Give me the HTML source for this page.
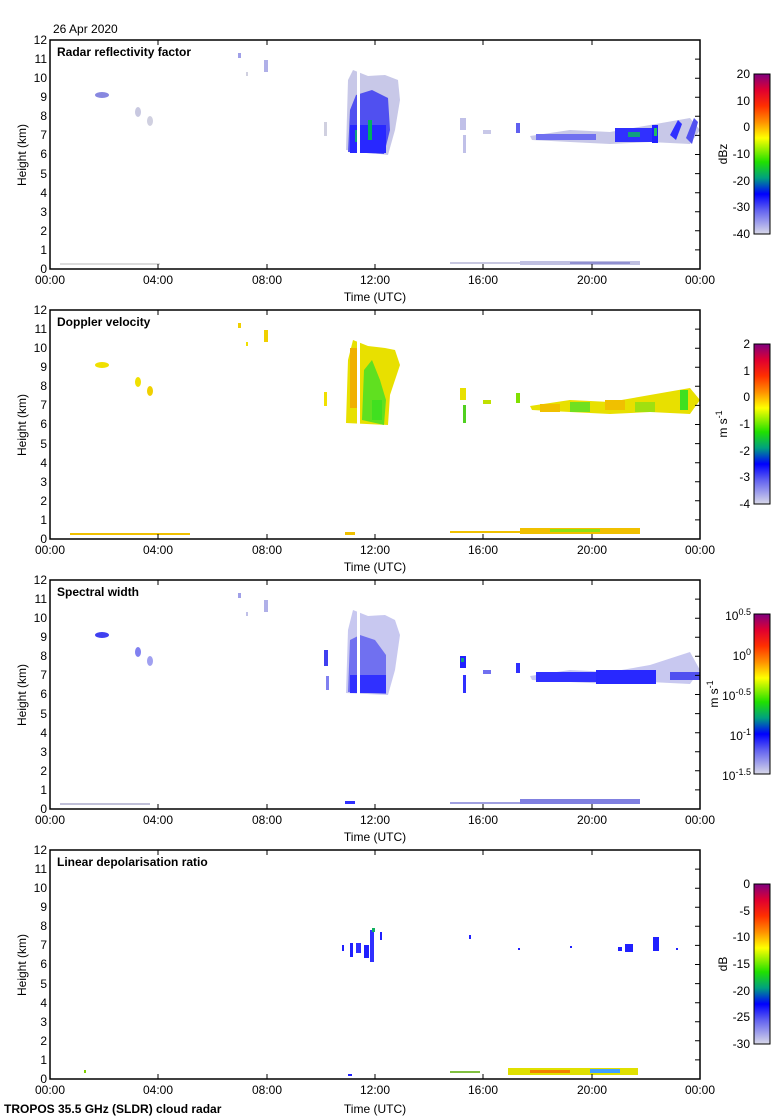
<!DOCTYPE html>
<html><head><meta charset="utf-8"><style>
html,body{margin:0;padding:0;background:#fff}
svg{display:block;font-family:"Liberation Sans",sans-serif}
</style></head><body>
<svg width="780" height="1120" viewBox="0 0 780 1120" xmlns="http://www.w3.org/2000/svg">
<defs>
<linearGradient id="rb" x1="0" y1="0" x2="0" y2="1">
<stop offset="0" stop-color="#800080"/>
<stop offset="0.1" stop-color="#e00030"/>
<stop offset="0.2" stop-color="#ff3000"/>
<stop offset="0.3" stop-color="#ff9000"/>
<stop offset="0.4" stop-color="#ffff00"/>
<stop offset="0.55" stop-color="#20e000"/>
<stop offset="0.65" stop-color="#00a080"/>
<stop offset="0.75" stop-color="#0000ff"/>
<stop offset="0.85" stop-color="#6060f0"/>
<stop offset="1" stop-color="#d8d8e8"/>
</linearGradient>
</defs>
<text x="53" y="33" font-size="12">26 Apr 2020</text>
<text x="4" y="1113" font-size="12" font-weight="bold">TROPOS 35.5 GHz (SLDR) cloud radar</text>

<!-- Panel 1 -->
<g transform="translate(50,40)">
<g>
<ellipse cx="52" cy="55" rx="7" ry="3" fill="#8888e0"/>
<ellipse cx="88" cy="72" rx="3" ry="5" fill="#c8c8e0"/>
<ellipse cx="100" cy="81" rx="3" ry="5" fill="#d0d0e0"/>
<rect x="188" y="13" width="3" height="5" fill="#a0a0e8"/>
<rect x="196" y="32" width="2" height="4" fill="#d0d0e0"/>
<rect x="214" y="20" width="4" height="12" fill="#b0b0e8"/>
<rect x="274" y="82" width="3" height="14" fill="#d0d0e0"/>
<path d="M296,110 L298,40 L303,30 L318,36 L335,35 L348,40 L350,60 L345,90 L338,115 Z" fill="#c8c8e8"/>
<path d="M298,112 L300,70 L306,55 L322,50 L338,58 L340,90 L334,114 Z" fill="#5050f0"/>
<rect x="300" y="85" width="36" height="28" fill="#2828ff"/>
<rect x="318" y="80" width="4" height="20" fill="#00b060"/>
<rect x="305" y="90" width="3" height="12" fill="#10a080"/>
<rect x="307" y="30" width="3" height="90" fill="#fff"/>
<rect x="410" y="78" width="6" height="12" fill="#c0c0e8"/>
<rect x="413" y="95" width="3" height="18" fill="#c0c0e8"/>
<rect x="433" y="90" width="8" height="4" fill="#c8c8e8"/>
<rect x="466" y="83" width="4" height="10" fill="#6060f0"/>
<path d="M480,96 L520,90 L560,92 L600,85 L640,78 L650,90 L640,104 L600,102 L560,104 L520,102 L482,100 Z" fill="#c8c8e8"/>
<rect x="486" y="94" width="60" height="6" fill="#7070f0"/>
<rect x="565" y="88" width="40" height="14" fill="#3030ff"/>
<rect x="578" y="92" width="12" height="5" fill="#10a080"/>
<rect x="602" y="85" width="6" height="18" fill="#2020ff"/>
<rect x="604" y="88" width="3" height="8" fill="#20c060"/>
<path d="M620,95 L628,80 L632,84 L626,100 Z" fill="#3030ff"/>
<path d="M636,98 L644,78 L648,82 L642,104 Z" fill="#5050f0"/>
<rect x="10" y="223" width="100" height="2" fill="#dcdcdc"/>
<rect x="400" y="222" width="70" height="2" fill="#c8c8e0"/>
<rect x="470" y="221" width="120" height="4" fill="#c0c0e0"/>
<rect x="520" y="222" width="60" height="2" fill="#9090d0"/>
</g>
<rect x="0" y="0" width="650" height="229" fill="none" stroke="#000" stroke-width="1.5"/>
<path d="M108,0v5M217,0v5M325,0v5M433,0v5M542,0v5M108,229v-5M217,229v-5M325,229v-5M433,229v-5M542,229v-5M650,19.1h-5M650,38.2h-5M650,57.3h-5M650,76.3h-5M650,95.4h-5M650,114.5h-5M650,133.6h-5M650,152.7h-5M650,171.8h-5M650,190.8h-5M650,209.9h-5" stroke="#000" fill="none"/>
<g font-size="12" text-anchor="end"><text x="-3" y="233">0</text><text x="-3" y="214">1</text><text x="-3" y="195">2</text><text x="-3" y="176">3</text><text x="-3" y="157">4</text><text x="-3" y="138">5</text><text x="-3" y="118">6</text><text x="-3" y="99">7</text><text x="-3" y="80">8</text><text x="-3" y="61">9</text><text x="-3" y="42">10</text><text x="-3" y="23">11</text><text x="-3" y="4">12</text></g>
<g font-size="12" text-anchor="middle"><text x="0" y="244">00:00</text><text x="108" y="244">04:00</text><text x="217" y="244">08:00</text><text x="325" y="244">12:00</text><text x="433" y="244">16:00</text><text x="542" y="244">20:00</text><text x="650" y="244">00:00</text><text x="325" y="261">Time (UTC)</text></g>
<text transform="translate(-24,115) rotate(-90)" font-size="12" text-anchor="middle">Height (km)</text>
<text x="7" y="16" font-size="12" font-weight="bold">Radar reflectivity factor</text>
<rect x="704" y="34" width="16" height="160" fill="url(#rb)" stroke="#000"/>
<g font-size="12" text-anchor="end"><text x="700" y="38">20</text><text x="700" y="65">10</text><text x="700" y="91">0</text><text x="700" y="118">-10</text><text x="700" y="145">-20</text><text x="700" y="171">-30</text><text x="700" y="198">-40</text></g>
<text transform="translate(677,114) rotate(-90)" font-size="12" text-anchor="middle">dBz</text>
</g>

<!-- Panel 2 -->
<g transform="translate(50,310)">
<g>
<ellipse cx="52" cy="55" rx="7" ry="3" fill="#f0e000"/>
<ellipse cx="88" cy="72" rx="3" ry="5" fill="#f0e000"/>
<ellipse cx="100" cy="81" rx="3" ry="5" fill="#f0d000"/>
<rect x="188" y="13" width="3" height="5" fill="#f0d000"/>
<rect x="196" y="32" width="2" height="4" fill="#f0e000"/>
<rect x="214" y="20" width="4" height="12" fill="#f0d000"/>
<rect x="274" y="82" width="3" height="14" fill="#f0e000"/>
<path d="M296,113 L298,50 L303,30 L318,36 L335,38 L345,40 L350,55 L345,70 L340,85 L338,115 Z" fill="#e8e000"/>
<rect x="300" y="38" width="8" height="60" fill="#f0b000"/>
<path d="M312,110 L314,60 L322,50 L330,70 L336,90 L334,115 Z" fill="#60e020"/>
<rect x="322" y="90" width="10" height="20" fill="#40e020"/>
<rect x="307" y="30" width="3" height="90" fill="#fff"/>
<rect x="410" y="78" width="6" height="12" fill="#e8e000"/>
<rect x="413" y="95" width="3" height="18" fill="#50d020"/>
<rect x="433" y="90" width="8" height="4" fill="#c0e000"/>
<rect x="466" y="83" width="4" height="10" fill="#80e000"/>
<path d="M480,96 L520,90 L560,92 L600,85 L640,78 L650,90 L640,104 L600,102 L560,104 L520,102 L482,100 Z" fill="#e8e000"/>
<rect x="490" y="94" width="20" height="8" fill="#f0c000"/>
<rect x="520" y="92" width="20" height="10" fill="#70e020"/>
<rect x="555" y="90" width="20" height="10" fill="#f0c000"/>
<rect x="585" y="92" width="20" height="10" fill="#a0e010"/>
<rect x="630" y="80" width="8" height="20" fill="#40e020"/>
<rect x="20" y="223" width="120" height="2" fill="#f0c000"/>
<rect x="295" y="222" width="10" height="3" fill="#f0c000"/>
<rect x="400" y="221" width="70" height="2" fill="#f0c000"/>
<rect x="470" y="218" width="120" height="6" fill="#f0c000"/>
<rect x="500" y="219" width="50" height="3" fill="#90e010"/>
</g>
<rect x="0" y="0" width="650" height="229" fill="none" stroke="#000" stroke-width="1.5"/>
<path d="M108,0v5M217,0v5M325,0v5M433,0v5M542,0v5M108,229v-5M217,229v-5M325,229v-5M433,229v-5M542,229v-5M650,19.1h-5M650,38.2h-5M650,57.3h-5M650,76.3h-5M650,95.4h-5M650,114.5h-5M650,133.6h-5M650,152.7h-5M650,171.8h-5M650,190.8h-5M650,209.9h-5" stroke="#000" fill="none"/>
<g font-size="12" text-anchor="end"><text x="-3" y="233">0</text><text x="-3" y="214">1</text><text x="-3" y="195">2</text><text x="-3" y="176">3</text><text x="-3" y="157">4</text><text x="-3" y="138">5</text><text x="-3" y="118">6</text><text x="-3" y="99">7</text><text x="-3" y="80">8</text><text x="-3" y="61">9</text><text x="-3" y="42">10</text><text x="-3" y="23">11</text><text x="-3" y="4">12</text></g>
<g font-size="12" text-anchor="middle"><text x="0" y="244">00:00</text><text x="108" y="244">04:00</text><text x="217" y="244">08:00</text><text x="325" y="244">12:00</text><text x="433" y="244">16:00</text><text x="542" y="244">20:00</text><text x="650" y="244">00:00</text><text x="325" y="261">Time (UTC)</text></g>
<text transform="translate(-24,115) rotate(-90)" font-size="12" text-anchor="middle">Height (km)</text>
<text x="7" y="16" font-size="12" font-weight="bold">Doppler velocity</text>
<rect x="704" y="34" width="16" height="160" fill="url(#rb)" stroke="#000"/>
<g font-size="12" text-anchor="end"><text x="700" y="38">2</text><text x="700" y="65">1</text><text x="700" y="91">0</text><text x="700" y="118">-1</text><text x="700" y="145">-2</text><text x="700" y="171">-3</text><text x="700" y="198">-4</text></g>
<text transform="translate(677,114) rotate(-90)" font-size="12" text-anchor="middle">m s<tspan dy="-5" font-size="9">-1</tspan></text>
</g>

<!-- Panel 3 -->
<g transform="translate(50,580)">
<g>
<ellipse cx="52" cy="55" rx="7" ry="3" fill="#4040f0"/>
<ellipse cx="88" cy="72" rx="3" ry="5" fill="#8080f0"/>
<ellipse cx="100" cy="81" rx="3" ry="5" fill="#a0a0f0"/>
<rect x="188" y="13" width="3" height="5" fill="#a0a0e8"/>
<rect x="196" y="32" width="2" height="4" fill="#c0c0e8"/>
<rect x="214" y="20" width="4" height="12" fill="#b0b0e8"/>
<rect x="274" y="70" width="4" height="16" fill="#4040f0"/>
<rect x="276" y="96" width="3" height="14" fill="#8080f0"/>
<path d="M296,113 L298,50 L303,30 L318,36 L335,35 L345,40 L350,55 L345,90 L338,115 Z" fill="#c8c8f0"/>
<path d="M298,112 L300,60 L310,55 L325,60 L336,75 L336,114 Z" fill="#7070f0"/>
<rect x="300" y="95" width="36" height="18" fill="#3030ff"/>
<rect x="307" y="30" width="3" height="90" fill="#fff"/>
<rect x="410" y="76" width="6" height="12" fill="#2020ff"/>
<rect x="411" y="78" width="3" height="4" fill="#10a080"/>
<rect x="413" y="95" width="3" height="18" fill="#3030ff"/>
<rect x="433" y="90" width="8" height="4" fill="#7070f0"/>
<rect x="466" y="83" width="4" height="10" fill="#3030ff"/>
<path d="M480,96 L520,90 L560,92 L600,85 L640,72 L650,90 L640,104 L600,102 L560,104 L520,102 L482,100 Z" fill="#c8c8f0"/>
<rect x="486" y="92" width="60" height="10" fill="#3030ff"/>
<rect x="546" y="90" width="60" height="14" fill="#2828ff"/>
<rect x="620" y="92" width="30" height="8" fill="#5050f0"/>
<rect x="10" y="223" width="90" height="2" fill="#c0c0d8"/>
<rect x="295" y="221" width="10" height="3" fill="#3030ff"/>
<rect x="400" y="222" width="70" height="2" fill="#a0a0e0"/>
<rect x="470" y="219" width="120" height="5" fill="#8080e0"/>
</g>
<rect x="0" y="0" width="650" height="229" fill="none" stroke="#000" stroke-width="1.5"/>
<path d="M108,0v5M217,0v5M325,0v5M433,0v5M542,0v5M108,229v-5M217,229v-5M325,229v-5M433,229v-5M542,229v-5M650,19.1h-5M650,38.2h-5M650,57.3h-5M650,76.3h-5M650,95.4h-5M650,114.5h-5M650,133.6h-5M650,152.7h-5M650,171.8h-5M650,190.8h-5M650,209.9h-5" stroke="#000" fill="none"/>
<g font-size="12" text-anchor="end"><text x="-3" y="233">0</text><text x="-3" y="214">1</text><text x="-3" y="195">2</text><text x="-3" y="176">3</text><text x="-3" y="157">4</text><text x="-3" y="138">5</text><text x="-3" y="118">6</text><text x="-3" y="99">7</text><text x="-3" y="80">8</text><text x="-3" y="61">9</text><text x="-3" y="42">10</text><text x="-3" y="23">11</text><text x="-3" y="4">12</text></g>
<g font-size="12" text-anchor="middle"><text x="0" y="244">00:00</text><text x="108" y="244">04:00</text><text x="217" y="244">08:00</text><text x="325" y="244">12:00</text><text x="433" y="244">16:00</text><text x="542" y="244">20:00</text><text x="650" y="244">00:00</text><text x="325" y="261">Time (UTC)</text></g>
<text transform="translate(-24,115) rotate(-90)" font-size="12" text-anchor="middle">Height (km)</text>
<text x="7" y="16" font-size="12" font-weight="bold">Spectral width</text>
<rect x="704" y="34" width="16" height="160" fill="url(#rb)" stroke="#000"/>
<g font-size="12" text-anchor="end"><text x="701" y="40">10<tspan dy="-5" font-size="9">0.5</tspan></text><text x="701" y="80">10<tspan dy="-5" font-size="9">0</tspan></text><text x="701" y="120">10<tspan dy="-5" font-size="9">-0.5</tspan></text><text x="701" y="160">10<tspan dy="-5" font-size="9">-1</tspan></text><text x="701" y="200">10<tspan dy="-5" font-size="9">-1.5</tspan></text></g>
<text transform="translate(668,114) rotate(-90)" font-size="12" text-anchor="middle">m s<tspan dy="-5" font-size="9">-1</tspan></text>
</g>

<!-- Panel 4 -->
<g transform="translate(50,850)">
<g>
<rect x="292" y="95" width="2" height="6" fill="#2020ff"/>
<rect x="300" y="93" width="3" height="14" fill="#2020ff"/>
<rect x="306" y="93" width="5" height="10" fill="#3030ff"/>
<rect x="314" y="95" width="5" height="13" fill="#2020ff"/>
<rect x="320" y="80" width="4" height="32" fill="#3030ff"/>
<rect x="322" y="78" width="3" height="4" fill="#10b060"/>
<rect x="330" y="82" width="2" height="8" fill="#2020ff"/>
<rect x="419" y="85" width="2" height="4" fill="#2020ff"/>
<rect x="468" y="98" width="2" height="2" fill="#2020ff"/>
<rect x="520" y="96" width="2" height="2" fill="#2020ff"/>
<rect x="568" y="97" width="4" height="4" fill="#2020ff"/>
<rect x="575" y="94" width="8" height="8" fill="#2020ff"/>
<rect x="603" y="87" width="6" height="14" fill="#2020ff"/>
<rect x="626" y="98" width="2" height="2" fill="#2020ff"/>
<rect x="298" y="224" width="4" height="2" fill="#2020ff"/>
<rect x="400" y="221" width="30" height="2" fill="#80c040"/>
<rect x="458" y="218" width="130" height="7" fill="#e0e000"/>
<rect x="480" y="220" width="40" height="3" fill="#f08000"/>
<rect x="540" y="219" width="30" height="4" fill="#40a0ff"/>
<rect x="34" y="220" width="2" height="3" fill="#80d000"/>
</g>
<rect x="0" y="0" width="650" height="229" fill="none" stroke="#000" stroke-width="1.5"/>
<path d="M108,0v5M217,0v5M325,0v5M433,0v5M542,0v5M108,229v-5M217,229v-5M325,229v-5M433,229v-5M542,229v-5M650,19.1h-5M650,38.2h-5M650,57.3h-5M650,76.3h-5M650,95.4h-5M650,114.5h-5M650,133.6h-5M650,152.7h-5M650,171.8h-5M650,190.8h-5M650,209.9h-5" stroke="#000" fill="none"/>
<g font-size="12" text-anchor="end"><text x="-3" y="233">0</text><text x="-3" y="214">1</text><text x="-3" y="195">2</text><text x="-3" y="176">3</text><text x="-3" y="157">4</text><text x="-3" y="138">5</text><text x="-3" y="118">6</text><text x="-3" y="99">7</text><text x="-3" y="80">8</text><text x="-3" y="61">9</text><text x="-3" y="42">10</text><text x="-3" y="23">11</text><text x="-3" y="4">12</text></g>
<g font-size="12" text-anchor="middle"><text x="0" y="244">00:00</text><text x="108" y="244">04:00</text><text x="217" y="244">08:00</text><text x="325" y="244">12:00</text><text x="433" y="244">16:00</text><text x="542" y="244">20:00</text><text x="650" y="244">00:00</text><text x="325" y="263">Time (UTC)</text></g>
<text transform="translate(-24,115) rotate(-90)" font-size="12" text-anchor="middle">Height (km)</text>
<text x="7" y="16" font-size="12" font-weight="bold">Linear depolarisation ratio</text>
<rect x="704" y="34" width="16" height="160" fill="url(#rb)" stroke="#000"/>
<g font-size="12" text-anchor="end"><text x="700" y="38">0</text><text x="700" y="65">-5</text><text x="700" y="91">-10</text><text x="700" y="118">-15</text><text x="700" y="145">-20</text><text x="700" y="171">-25</text><text x="700" y="198">-30</text></g>
<text transform="translate(677,114) rotate(-90)" font-size="12" text-anchor="middle">dB</text>
</g>
</svg>
</body></html>
